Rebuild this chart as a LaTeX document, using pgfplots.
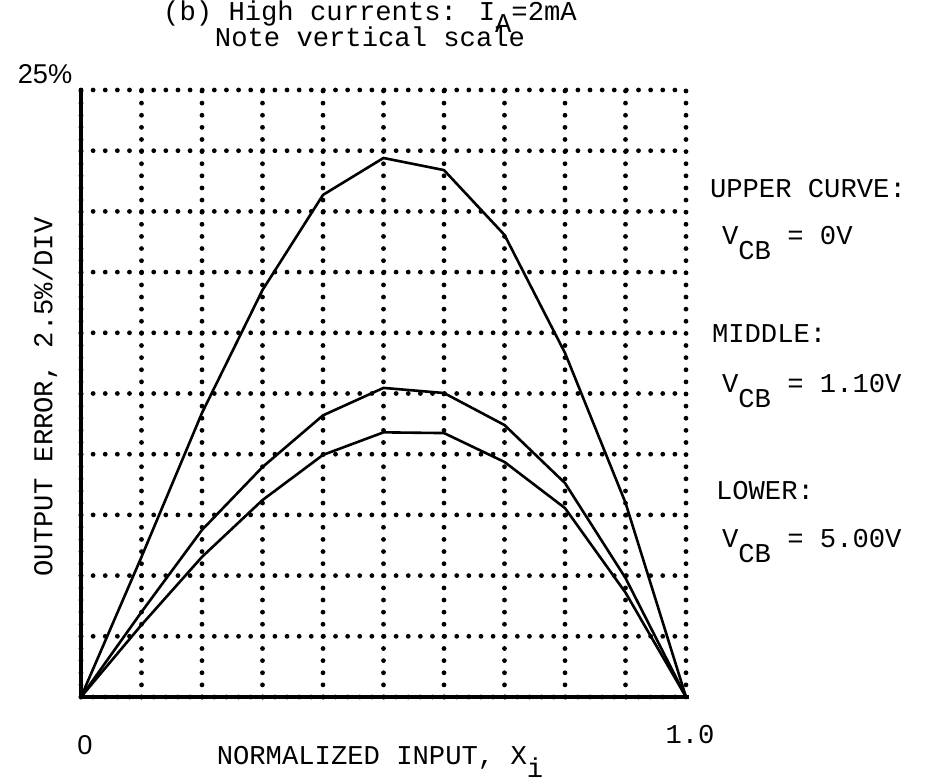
\documentclass[border=0pt]{standalone}
\usepackage{pgfplots}
\pgfplotsset{compat=1.18}
\usepackage{fontspec}
\setmainfont{Liberation Mono}
\newfontfamily\sansf{Liberation Sans}
\newcommand{\sub}[1]{\raisebox{-0.55em}{#1}}
\tikzset{txt/.style={font=\fontsize{13.6pt}{16pt}\selectfont, inner sep=0pt, outer sep=0pt}}
\begin{document}
\begin{tikzpicture}
\useasboundingbox (0,0) rectangle (467pt,391.5pt);
\begin{axis}[
  at={(40.5pt,43pt)}, anchor=south west,
  width=302.5pt, height=303.5pt, scale only axis,
  xmin=0, xmax=1, ymin=0, ymax=25,
  xtick={0,0.1,0.2,0.3,0.4,0.5,0.6,0.7,0.8,0.9,1},
  ytick={0,2.5,5,7.5,10,12.5,15,17.5,20,22.5,25},
  xticklabels={}, yticklabels={},
  major tick length=0pt,
  grid=major,
  major grid style={black, line width=2.4pt, line cap=round, dash pattern=on 0pt off 6.06pt},
  axis line style={draw=none},
  clip=false,
]
\addplot[black, line width=1.3pt] coordinates {(0,0) (0.1,5.77) (0.2,11.7) (0.3,16.76) (0.4,20.68) (0.5,22.2) (0.6,21.7) (0.7,19.03) (0.8,14.17) (0.9,8.0) (1,0)};
\addplot[black, line width=1.3pt] coordinates {(0,0) (0.1,3.5) (0.2,6.88) (0.3,9.47) (0.4,11.6) (0.5,12.73) (0.6,12.52) (0.7,11.2) (0.8,8.81) (0.9,4.9) (1,0)};
\addplot[black, line width=1.3pt] coordinates {(0,0) (0.1,2.97) (0.2,5.77) (0.3,8.11) (0.4,9.97) (0.5,10.9) (0.6,10.87) (0.7,9.68) (0.8,7.78) (0.9,4.3) (1,0)};
\draw[black, line width=2pt] (axis cs:0,25.1) -- (axis cs:0,0) -- (axis cs:1.005,0);
\end{axis}
\node[txt, anchor=base] at (185pt,381pt) {(b) High currents: I\raisebox{-0.42em}{A}=2mA};
\node[txt, anchor=base] at (185pt,368pt) {Note vertical scale};
\node[txt, anchor=base, font=\sansf\fontsize{13.6pt}{16pt}\selectfont] at (22.5pt,349.5pt) {25\%};
\node[txt, anchor=base, font=\sansf\fontsize{13.6pt}{16pt}\selectfont] at (42.5pt,14pt) {0};
\node[txt, anchor=base] at (345pt,19.5pt) {1.0};
\node[txt, anchor=base] at (190pt,9pt) {NORMALIZED INPUT, X\raisebox{-0.45em}{i}};
\node[txt, anchor=center, rotate=90] at (22.5pt,193pt) {OUTPUT ERROR, 2.5\%/DIV};
\node[txt, anchor=base west] at (355pt,292.5pt) {UPPER CURVE:};
\node[txt, anchor=base west] at (361pt,269pt) {V\sub{CB} = 0V};
\node[txt, anchor=base west] at (356pt,220pt) {MIDDLE:};
\node[txt, anchor=base west] at (361pt,195pt) {V\sub{CB} = 1.10V};
\node[txt, anchor=base west] at (358pt,141.5pt) {LOWER:};
\node[txt, anchor=base west] at (361pt,117.5pt) {V\sub{CB} = 5.00V};
\end{tikzpicture}
\end{document}
